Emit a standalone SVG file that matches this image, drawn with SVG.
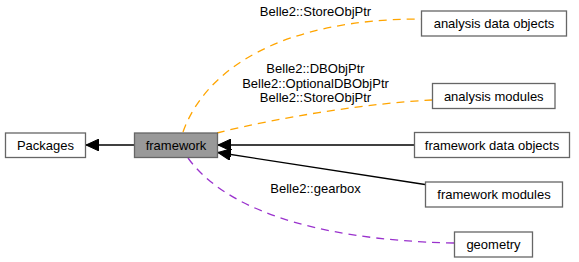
<svg xmlns="http://www.w3.org/2000/svg" width="579" height="262" viewBox="0 0 579 262">
<defs>
<marker id="ah" viewBox="0 0 13 12" refX="13" refY="6" markerWidth="13" markerHeight="12" markerUnits="userSpaceOnUse" orient="auto-start-reverse">
<path d="M0,0 L13,6 L0,12 Z" fill="#000" stroke="#000" stroke-width="1"/>
</marker>
</defs>
<style>
.node rect{fill:#fff;stroke:#666;stroke-width:1.3}
.node.cur rect{fill:#999}
text{font-family:"Liberation Sans",Arial,Helvetica,sans-serif;font-size:13px;fill:#000}
.node text{text-anchor:middle}
.lbl{text-anchor:middle}
.e{fill:none;stroke-width:1.3}
.solid{stroke:#000}
.orange{stroke:#FFA500;stroke-dasharray:8,6}
.purple{stroke:#9A32CD;stroke-dasharray:8,6}
</style>
<g id="connectors">
<path class="e solid" d="M134,145 L86,145" marker-end="url(#ah)"/>
<path class="e solid" d="M414,145 L218,145" marker-end="url(#ah)"/>
<path class="e solid" d="M425,184.5 L218,152.5" marker-end="url(#ah)"/>
<path class="e orange" d="M183,132 C205,70 280,19 421,19"/>
<path class="e orange" d="M217,133 C280,117 370,103 432,100"/>
<path class="e purple" d="M188,158 C222,205 305,240 454,243"/>
<text class="lbl" x="315.5" y="15.5">Belle2::StoreObjPtr</text>
<text class="lbl" x="315.5" y="73">Belle2::DBObjPtr</text>
<text class="lbl" x="315.5" y="87.5">Belle2::OptionalDBObjPtr</text>
<text class="lbl" x="315.5" y="102">Belle2::StoreObjPtr</text>
<text class="lbl" x="315.5" y="192.5">Belle2::gearbox</text>
</g>
<g id="Packages" class="node"><rect x="5.5" y="133" width="80" height="24.5"/><text x="45.5" y="149.5">Packages</text></g>
<g id="framework" class="node cur"><rect x="134.5" y="133" width="83" height="24.5"/><text x="176" y="149.5">framework</text></g>
<g id="analysis_data_objects" class="node"><rect x="421.5" y="11" width="145" height="25"/><text x="494" y="28">analysis data objects</text></g>
<g id="analysis_modules" class="node"><rect x="432.5" y="83.5" width="122.5" height="25"/><text x="493.75" y="100.5">analysis modules</text></g>
<g id="framework_data_objects" class="node"><rect x="414.5" y="132.5" width="155" height="25"/><text x="492" y="149.5">framework data objects</text></g>
<g id="framework_modules" class="node"><rect x="425.5" y="182" width="137" height="25"/><text x="494" y="199">framework modules</text></g>
<g id="geometry" class="node"><rect x="454.5" y="232" width="78" height="25"/><text x="493.5" y="249">geometry</text></g>
</svg>
